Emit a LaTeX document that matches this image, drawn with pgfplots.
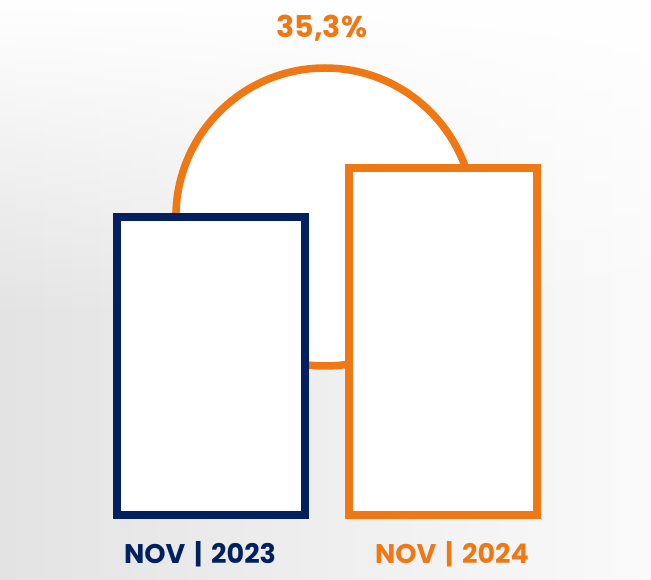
\documentclass[border=0pt]{standalone}
\usepackage{fontspec}
\setmainfont{Poppins}
\usepackage{pgfplots}
\pgfplotsset{compat=1.18}
\usetikzlibrary{fadings}
\definecolor{navy}{RGB}{0,32,96}
\definecolor{orng}{RGB}{240,120,20}
\begin{document}
\begin{tikzpicture}
\begin{axis}[
  width=651pt, height=579pt, scale only axis,
  xmin=-0.9095, xmax=1.8966,
  ymin=-64, ymax=515,
  hide axis,
  ybar, bar width=0.81, bar shift=0pt,
  clip=false,
]
% background
\shade[left color=black!11, right color=black!2] (rel axis cs:0,0) rectangle (rel axis cs:1,1);
\fill[white, path fading=south] (rel axis cs:0,0.45) rectangle (rel axis cs:1,1);
% connecting circle
\draw[orng, fill=white, line width=7.5pt] (axis cs:0.491,298) circle[radius=149pt];
% bars
\addplot[draw=navy, fill=white, line width=8pt] coordinates {(0,298)};
\addplot[draw=orng, fill=white, line width=8pt] coordinates {(1,347)};
% labels
\node[anchor=base, text=navy, font=\bfseries\fontsize{27}{30}\selectfont] at (axis cs:-0.047,-48) {NOV\,\,|\,\,2023};
\node[anchor=base, text=orng, font=\bfseries\fontsize{27}{30}\selectfont] at (axis cs:1.039,-48) {NOV\,\,|\,\,2024};
\node[anchor=base, text=orng, font=\bfseries\fontsize{30}{34}\selectfont] at (axis cs:0.478,477) {35,3\%};
\end{axis}
\end{tikzpicture}
\end{document}
